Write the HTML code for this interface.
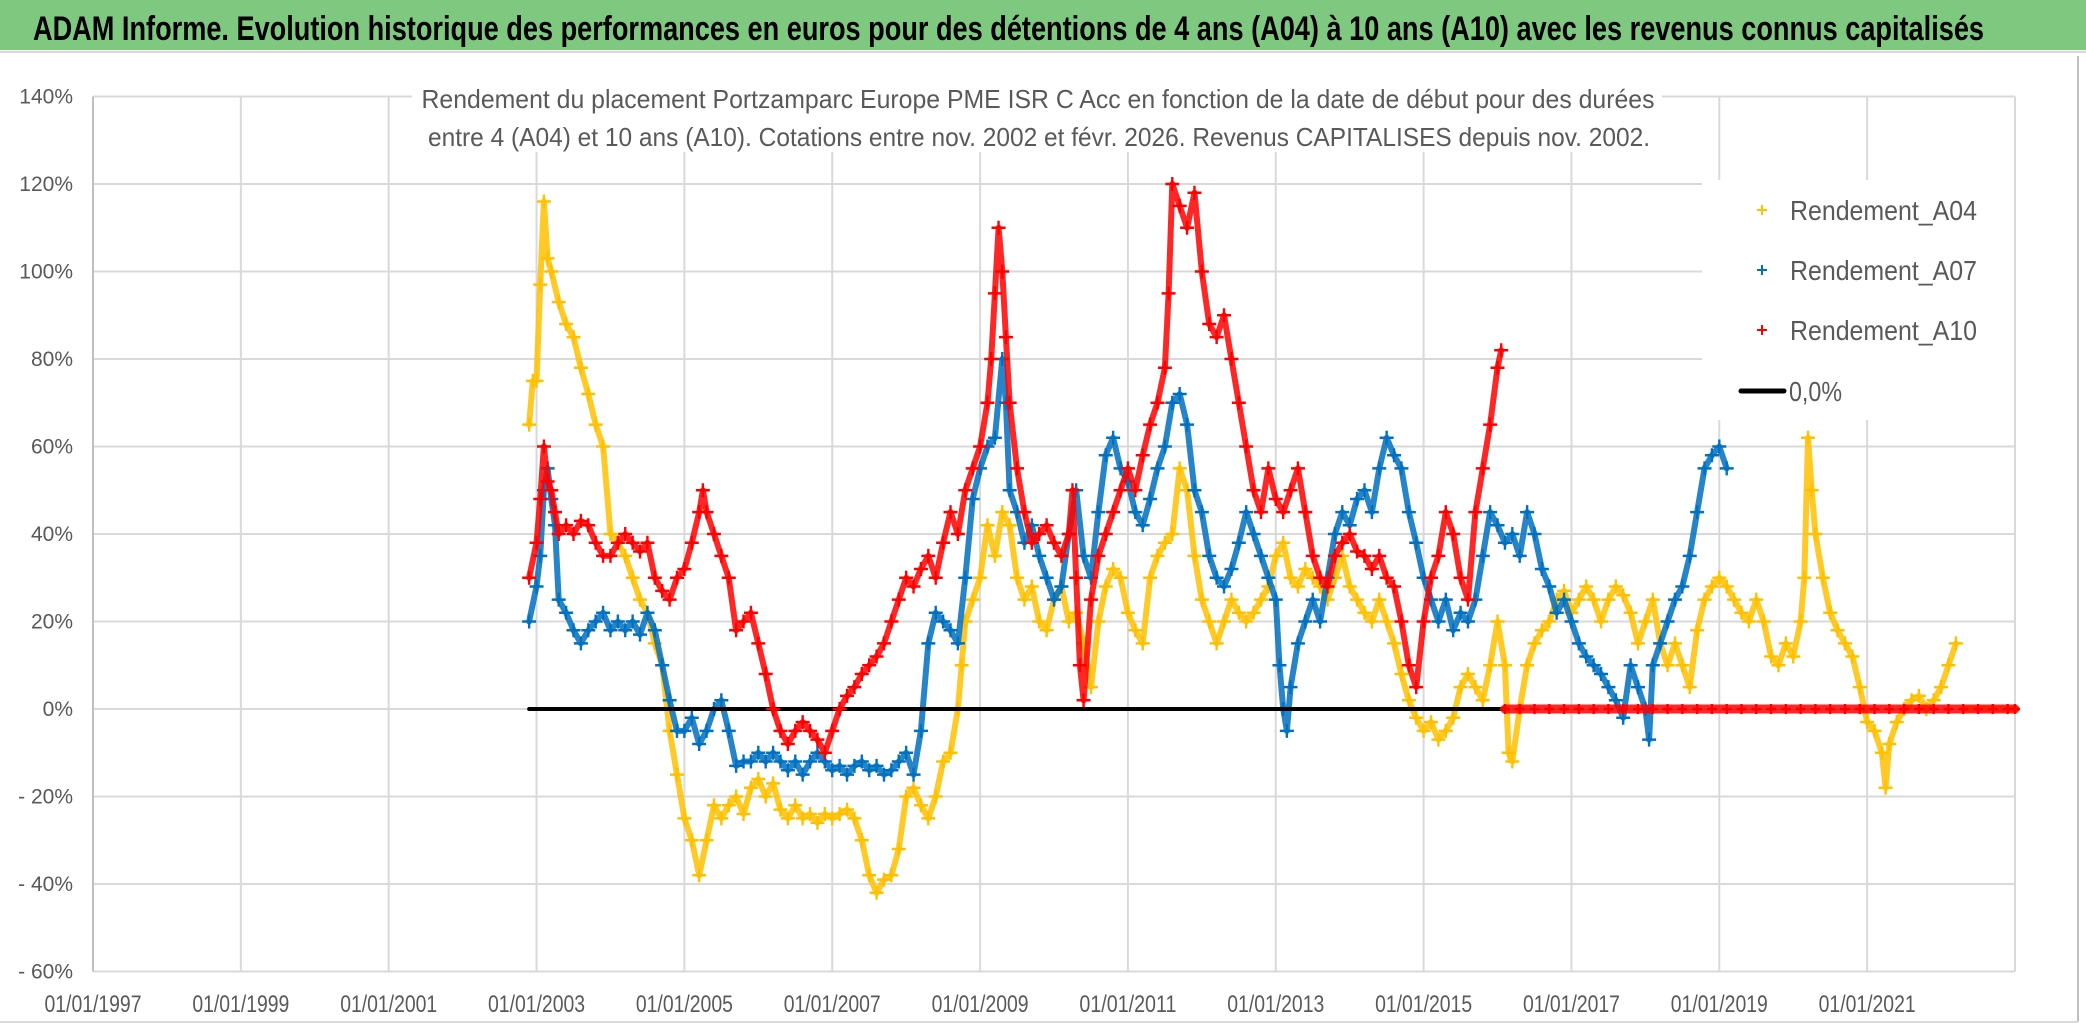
<!DOCTYPE html>
<html><head><meta charset="utf-8"><style>
html,body{margin:0;padding:0;background:#fff;}
svg{display:block;}
text{font-family:"Liberation Sans Narrow","Liberation Sans",sans-serif;}
</style></head><body>
<svg id="chart" width="2086" height="1031" viewBox="0 0 2086 1031" xmlns="http://www.w3.org/2000/svg">
<rect x="0" y="0" width="2086" height="1031" fill="#fff"/>
<rect x="0" y="0" width="2086" height="50" fill="#7ec97f"/>
<line x1="0" y1="52" x2="2086" y2="52" stroke="#d9d9d9" stroke-width="2"/>
<text x="33" y="40" font-size="34" font-weight="bold" fill="#000" textLength="1951" lengthAdjust="spacingAndGlyphs">ADAM Informe. Evolution historique des performances en euros pour des détentions de 4 ans (A04) à 10 ans (A10) avec les revenus connus capitalisés</text>
<line x1="2078" y1="56" x2="2078" y2="1022" stroke="#bfbfbf" stroke-width="2"/>
<line x1="0" y1="1022" x2="2078" y2="1022" stroke="#d9d9d9" stroke-width="2"/>
<g id="grid"></g>
<g id="series"></g>
<g id="overlay"></g>
</svg>
<script>
const yTicks = [140,120,100,80,60,40,20,0,-20,-40,-60];
const yTickLabels = ["140%","120%","100%","80%","60%","40%","20%","0%","- 20%","- 40%","- 60%"];
const xTicks = [1997,1999,2001,2003,2005,2007,2009,2011,2013,2015,2017,2019,2021,2023];
const xTickLabels = ["01/01/1997","01/01/1999","01/01/2001","01/01/2003","01/01/2005","01/01/2007","01/01/2009","01/01/2011","01/01/2013","01/01/2015","01/01/2017","01/01/2019","01/01/2021",""];

const datesA04 = [2002.9,2002.95,2003.0,2003.05,2003.1,2003.15,2003.2,2003.3,2003.4,2003.5,2003.6,2003.7,2003.8,2003.9,2004.0,2004.1,2004.2,2004.3,2004.4,2004.5,2004.6,2004.7,2004.8,2004.9,2005.0,2005.1,2005.2,2005.3,2005.4,2005.5,2005.6,2005.7,2005.8,2005.9,2006.0,2006.1,2006.2,2006.3,2006.4,2006.5,2006.6,2006.7,2006.8,2006.9,2007.0,2007.1,2007.2,2007.3,2007.4,2007.5,2007.6,2007.7,2007.8,2007.9,2008.0,2008.1,2008.2,2008.3,2008.4,2008.5,2008.6,2008.7,2008.75,2008.8,2008.9,2009.0,2009.1,2009.2,2009.3,2009.4,2009.5,2009.6,2009.7,2009.8,2009.9,2010.0,2010.1,2010.2,2010.3,2010.4,2010.5,2010.6,2010.7,2010.8,2010.9,2011.0,2011.1,2011.2,2011.3,2011.4,2011.5,2011.6,2011.7,2011.8,2011.9,2012.0,2012.1,2012.2,2012.3,2012.4,2012.5,2012.6,2012.7,2012.8,2012.9,2013.0,2013.1,2013.2,2013.3,2013.4,2013.5,2013.6,2013.7,2013.8,2013.9,2014.0,2014.1,2014.2,2014.3,2014.4,2014.5,2014.6,2014.7,2014.8,2014.9,2015.0,2015.1,2015.2,2015.3,2015.4,2015.5,2015.6,2015.7,2015.8,2015.9,2016.0,2016.1,2016.15,2016.2,2016.3,2016.4,2016.5,2016.6,2016.7,2016.8,2016.9,2017.0,2017.1,2017.2,2017.3,2017.4,2017.5,2017.6,2017.7,2017.8,2017.9,2018.0,2018.1,2018.2,2018.3,2018.4,2018.5,2018.6,2018.7,2018.8,2018.9,2019.0,2019.1,2019.2,2019.3,2019.4,2019.5,2019.6,2019.7,2019.8,2019.9,2020.0,2020.1,2020.15,2020.2,2020.25,2020.3,2020.4,2020.5,2020.6,2020.7,2020.8,2020.9,2021.0,2021.1,2021.2,2021.25,2021.3,2021.4,2021.5,2021.6,2021.7,2021.8,2021.9,2022.0,2022.1,2022.2];
const valuesA04 = [65,75,75,97,116,103,100,93,88,85,78,72,65,60,40,38,35,30,25,22,15,10,-5,-15,-25,-30,-38,-30,-22,-25,-22,-20,-24,-18,-16,-20,-17,-23,-25,-22,-25,-24,-26,-24,-25,-24,-23,-25,-30,-38,-42,-39,-38,-32,-20,-18,-22,-25,-20,-12,-10,0,10,20,25,30,42,35,45,42,30,25,28,20,18,25,28,20,22,15,5,20,28,32,30,22,18,15,30,35,38,40,55,50,35,25,20,15,20,25,22,20,22,25,28,35,38,30,28,32,30,28,25,30,35,28,25,22,20,25,20,15,8,2,-2,-5,-3,-7,-5,-2,5,8,5,2,10,20,10,-10,-12,0,10,15,18,20,25,27,22,25,28,25,20,25,28,26,22,15,20,25,15,10,15,10,5,18,25,28,30,28,25,22,20,25,20,12,10,15,12,20,30,62,50,40,30,22,18,15,12,5,-3,-5,-10,-18,-8,-3,0,2,3,0,2,5,10,15];

const datesA07 = [2002.9,2003.0,2003.05,2003.1,2003.15,2003.2,2003.25,2003.3,2003.4,2003.5,2003.6,2003.7,2003.8,2003.9,2004.0,2004.1,2004.2,2004.3,2004.4,2004.5,2004.6,2004.7,2004.8,2004.9,2005.0,2005.1,2005.2,2005.3,2005.4,2005.5,2005.6,2005.7,2005.8,2005.9,2006.0,2006.1,2006.2,2006.3,2006.4,2006.5,2006.6,2006.7,2006.8,2006.9,2007.0,2007.1,2007.2,2007.3,2007.4,2007.5,2007.6,2007.7,2007.8,2007.9,2008.0,2008.1,2008.2,2008.3,2008.4,2008.5,2008.6,2008.7,2008.8,2008.9,2009.0,2009.1,2009.2,2009.3,2009.35,2009.4,2009.5,2009.6,2009.7,2009.8,2009.9,2010.0,2010.1,2010.2,2010.3,2010.4,2010.5,2010.6,2010.7,2010.8,2010.9,2011.0,2011.1,2011.2,2011.3,2011.4,2011.5,2011.6,2011.7,2011.8,2011.9,2012.0,2012.1,2012.2,2012.3,2012.4,2012.5,2012.6,2012.7,2012.8,2012.9,2013.0,2013.05,2013.1,2013.15,2013.2,2013.3,2013.4,2013.5,2013.6,2013.7,2013.8,2013.9,2014.0,2014.1,2014.2,2014.3,2014.4,2014.5,2014.6,2014.7,2014.8,2014.9,2015.0,2015.1,2015.2,2015.3,2015.4,2015.5,2015.6,2015.7,2015.8,2015.9,2016.0,2016.1,2016.2,2016.3,2016.4,2016.5,2016.6,2016.7,2016.8,2016.9,2017.0,2017.1,2017.2,2017.3,2017.4,2017.5,2017.6,2017.7,2017.8,2017.9,2018.0,2018.05,2018.1,2018.2,2018.3,2018.4,2018.5,2018.6,2018.7,2018.8,2018.9,2019.0,2019.1];
const valuesA07 = [20,28,35,50,55,48,42,25,22,18,15,18,20,22,18,20,18,20,17,22,18,10,2,-5,-5,-2,-8,-5,0,2,-5,-13,-12,-12,-10,-12,-10,-12,-14,-12,-15,-12,-10,-12,-14,-13,-15,-13,-12,-14,-13,-15,-14,-12,-10,-15,-5,15,22,20,18,15,30,48,55,60,62,80,70,50,45,38,42,35,30,25,28,40,50,35,30,45,58,62,55,52,45,42,48,55,60,70,72,65,50,45,35,30,28,32,38,45,40,35,30,25,10,0,-5,5,15,20,25,20,30,40,45,42,48,50,45,55,62,58,55,45,38,30,25,20,25,18,22,20,25,35,45,42,38,40,35,45,40,32,28,22,25,20,15,12,10,8,5,2,-2,10,5,0,-7,10,15,20,25,28,35,45,55,58,60,55];

const datesA10 = [2002.9,2003.0,2003.05,2003.1,2003.15,2003.2,2003.25,2003.3,2003.4,2003.5,2003.6,2003.7,2003.8,2003.9,2004.0,2004.1,2004.2,2004.3,2004.4,2004.5,2004.6,2004.7,2004.8,2004.9,2005.0,2005.1,2005.2,2005.25,2005.3,2005.4,2005.5,2005.6,2005.7,2005.8,2005.9,2006.0,2006.1,2006.2,2006.3,2006.4,2006.5,2006.6,2006.7,2006.8,2006.9,2007.0,2007.1,2007.2,2007.3,2007.4,2007.5,2007.6,2007.7,2007.8,2007.9,2008.0,2008.1,2008.2,2008.3,2008.4,2008.5,2008.6,2008.7,2008.8,2008.9,2009.0,2009.1,2009.15,2009.2,2009.25,2009.3,2009.35,2009.4,2009.5,2009.6,2009.7,2009.8,2009.9,2010.0,2010.1,2010.2,2010.25,2010.3,2010.35,2010.4,2010.5,2010.6,2010.7,2010.8,2010.9,2011.0,2011.1,2011.2,2011.3,2011.4,2011.5,2011.55,2011.6,2011.7,2011.8,2011.9,2012.0,2012.1,2012.2,2012.3,2012.4,2012.5,2012.6,2012.7,2012.8,2012.9,2013.0,2013.1,2013.2,2013.3,2013.4,2013.5,2013.6,2013.7,2013.8,2013.9,2014.0,2014.1,2014.2,2014.3,2014.4,2014.5,2014.6,2014.7,2014.8,2014.9,2015.0,2015.1,2015.2,2015.3,2015.4,2015.5,2015.6,2015.7,2015.8,2015.9,2016.0,2016.05];
const valuesA10 = [30,38,48,60,52,50,45,40,42,40,43,42,38,35,35,38,40,38,36,38,30,27,25,30,32,38,45,50,45,40,35,30,18,20,22,15,8,0,-5,-8,-5,-3,-5,-7,-10,-5,0,3,5,8,10,12,15,20,25,30,28,32,35,30,38,45,40,50,55,60,70,80,95,110,100,85,70,55,45,38,40,42,38,35,40,50,30,10,2,25,35,40,45,50,55,50,58,65,70,78,95,120,115,110,118,100,88,85,90,80,70,60,50,45,55,48,45,50,55,45,35,30,28,35,38,40,36,35,32,35,30,28,20,10,5,20,30,35,45,40,30,25,45,55,65,78,82];
// A10 after 2016: no full 10-year period yet, plotted at 0
const datesA10Zero = [2016.1,2016.3,2016.5,2016.7,2016.9,2017.1,2017.3,2017.5,2017.7,2017.9,2018.1,2018.3,2018.5,2018.7,2018.9,2019.1,2019.3,2019.5,2019.7,2019.9,2020.1,2020.3,2020.5,2020.7,2020.9,2021.1,2021.3,2021.5,2021.7,2021.9,2022.1,2022.3,2022.5,2022.7,2022.9,2023.0];
const valuesA10Zero = [0,0,0,0,0,0,0,0,0,0,0,0,0,0,0,0,0,0,0,0,0,0,0,0,0,0,0,0,0,0,0,0,0,0,0,0];
const datesA04Tail = [2022.3,2022.5,2022.7,2022.9,2023.0];
const valuesA04Tail = [0,0,0,0,0];

const zeroLineStart = 2002.9, zeroLineEnd = 2016.1;

const NS = "http://www.w3.org/2000/svg";
const X0 = 93, X1 = 2015, Y0 = 709, PXPCT = 4.375;
function xScale(yr){ return X0 + (yr - 1997) / (2023 - 1997) * (X1 - X0); }
function yScale(v){ return Y0 - v * PXPCT; }
function mk(tag, attrs, parent){ const e = document.createElementNS(NS, tag); for (const k in attrs) e.setAttribute(k, attrs[k]); parent.appendChild(e); return e; }

const grid = document.getElementById('grid');
const series = document.getElementById('series');
const overlay = document.getElementById('overlay');
const top_ = yScale(140), bot = yScale(-60);

yTicks.forEach((t, i) => {
  const ln = mk('line', {x1: X0, x2: X1, y1: yScale(t), y2: yScale(t), stroke: '#d9d9d9', 'stroke-width': 2}, grid);
  
  
  const tx = mk('text', {x: 73, y: yScale(t) + 7, 'font-size': 21, fill: '#595959', 'text-anchor': 'end'}, grid);
  tx.textContent = yTickLabels[i];
  
  
});
xTicks.forEach((t, i) => {
  const ln = mk('line', {x1: xScale(t), x2: xScale(t), y1: top_, y2: bot, stroke: i === 0 ? '#bfbfbf' : '#d9d9d9', 'stroke-width': 2}, grid);
  
  
  if (xTickLabels[i]) {
    const tx = mk('text', {x: xScale(t), y: 1012, 'font-size': 24, fill: '#595959', 'text-anchor': 'middle', textLength: 97, lengthAdjust: 'spacingAndGlyphs'}, grid);
    tx.textContent = xTickLabels[i];
    
    
  }
});

function drawSeries(dates, vals, color, name, sw, ms){
  const g = mk('g', {}, series);
  
  
  let pts = dates.map((d, i) => xScale(d).toFixed(1) + ',' + yScale(vals[i]).toFixed(1)).join(' ');
  const pl = mk('polyline', {points: pts, fill: 'none', stroke: color, 'stroke-width': sw, 'stroke-linejoin': 'round', 'stroke-linecap': 'round', opacity: 0.85}, g);
  
  
  dates.forEach((d, i) => {
    const x = xScale(d), y = yScale(vals[i]);
    const p = mk('path', {d: `M${x-ms},${y}H${x+ms}M${x},${y-ms}V${y+ms}`, stroke: color, 'stroke-width': 2.4}, g);
    
    
  });
}
drawSeries(datesA04, valuesA04, '#ffc000', 'series-a04', 6, 7);
drawSeries(datesA04Tail, valuesA04Tail, '#ffc000', 'series-a04-tail', 6, 5);
drawSeries(datesA07, valuesA07, '#0070c0', 'series-a07', 6, 7);
const zl = mk('line', {x1: xScale(zeroLineStart), x2: xScale(zeroLineEnd), y1: Y0, y2: Y0, stroke: '#000', 'stroke-width': 4, 'stroke-linecap': 'round'}, series);


drawSeries(datesA10, valuesA10, '#ff0000', 'series-a10', 6, 7);
drawSeries(datesA10Zero, valuesA10Zero, '#ff0000', 'series-a10-zero', 9, 5);

// subtitle box
const sb = mk('rect', {x: 412, y: 72, width: 1250, height: 80, fill: '#fff'}, overlay);


const st1 = mk('text', {x: 1038, y: 108, 'font-size': 26, fill: '#595959', 'text-anchor': 'middle', textLength: 1233, lengthAdjust: 'spacingAndGlyphs'}, overlay);
st1.textContent = 'Rendement du placement Portzamparc Europe PME ISR C Acc en fonction de la date de début pour des durées';


const st2 = mk('text', {x: 1039, y: 146, 'font-size': 26, fill: '#595959', 'text-anchor': 'middle', textLength: 1222, lengthAdjust: 'spacingAndGlyphs'}, overlay);
st2.textContent = 'entre 4 (A04) et 10 ans (A10). Cotations entre nov. 2002 et févr. 2026. Revenus CAPITALISES depuis nov. 2002.';



// legend
const lg = mk('g', {}, overlay);


const lb = mk('rect', {x: 1702, y: 180, width: 312, height: 240, fill: '#fff'}, lg);


const legendLabels = ['Rendement_A04', 'Rendement_A07', 'Rendement_A10'];
const legendColors = ['#ffc000', '#0070c0', '#ff0000'];
legendLabels.forEach((lab, i) => {
  const y = 210 + i * 60;
  const m = mk('path', {d: `M1757,${y}H1767M1762,${y-5}V${y+5}`, stroke: legendColors[i], 'stroke-width': 2}, lg);
  
  
  const t = mk('text', {x: 1790, y: y + 10, 'font-size': 28, fill: '#595959', textLength: 187, lengthAdjust: 'spacingAndGlyphs'}, lg);
  t.textContent = lab;
  
  
});
const ll = mk('line', {x1: 1741, x2: 1784, y1: 391, y2: 391, stroke: '#000', 'stroke-width': 5, 'stroke-linecap': 'round'}, lg);


const lt = mk('text', {x: 1789, y: 401, 'font-size': 28, fill: '#595959', textLength: 53, lengthAdjust: 'spacingAndGlyphs'}, lg);
lt.textContent = '0,0%';


</script>
</body></html>
